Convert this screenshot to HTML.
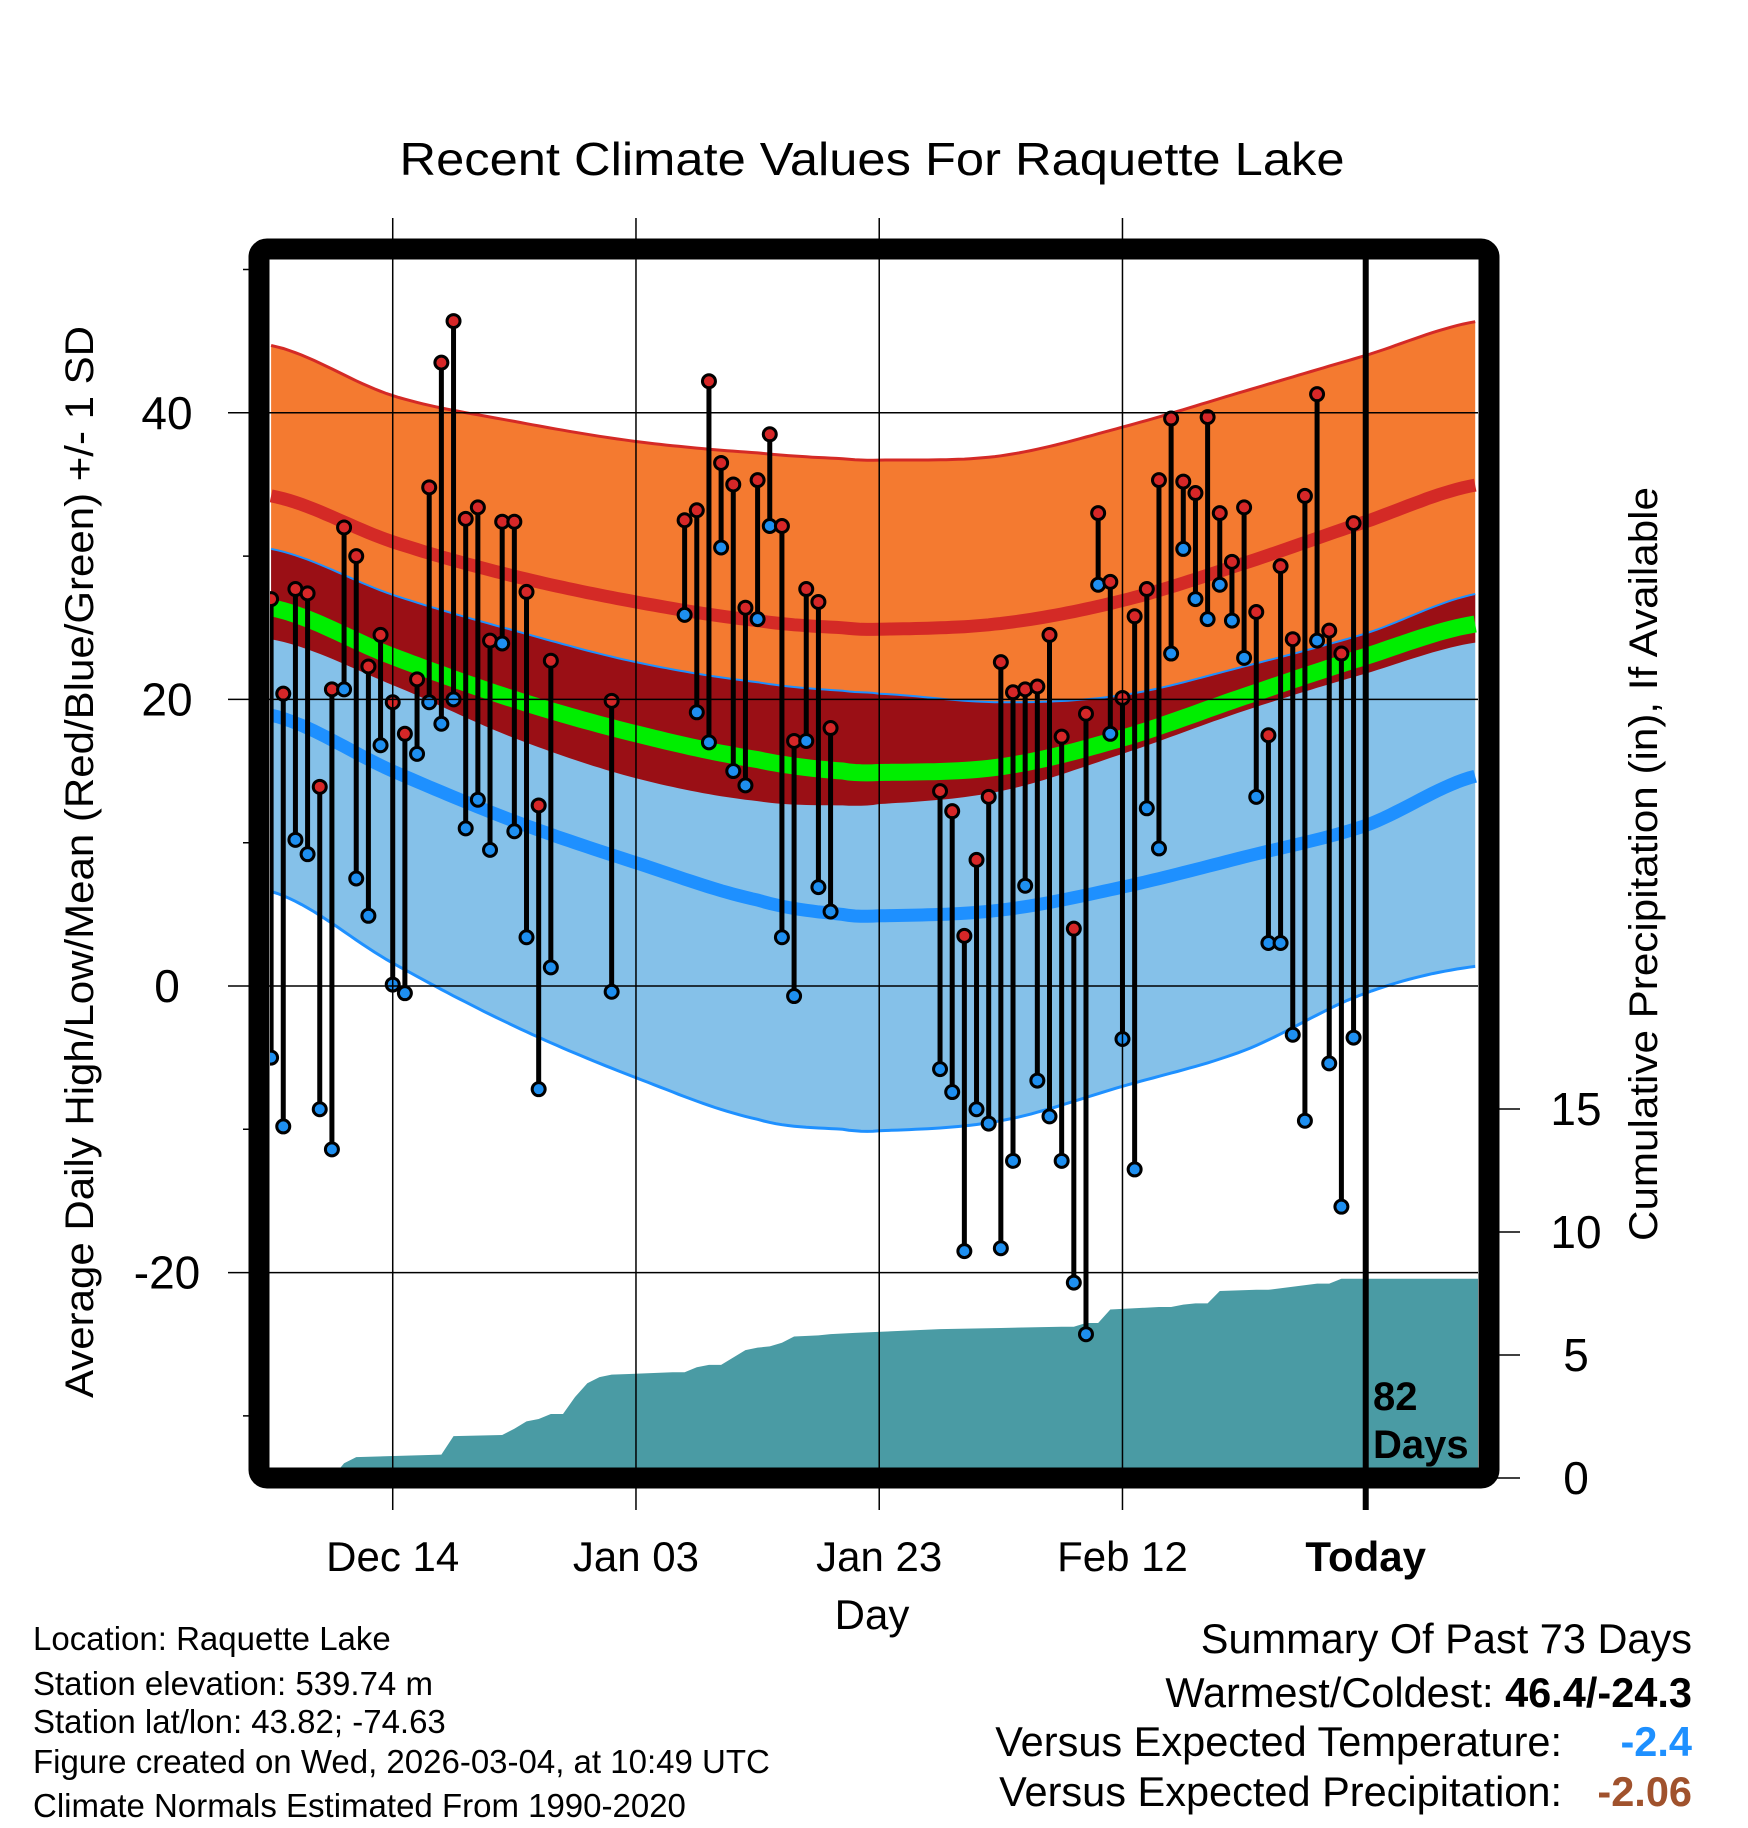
<!DOCTYPE html>
<html><head><meta charset="utf-8"><style>
html,body{margin:0;padding:0;background:#fff;}
svg{display:block;font-family:"Liberation Sans",sans-serif;}
</style></head><body>
<svg id="chart" width="1748" height="1828" viewBox="0 0 1748 1828" xmlns="http://www.w3.org/2000/svg">
<defs><clipPath id="plotclip"><rect x="270" y="260" width="1208" height="1208"/></clipPath></defs>
<text x="872" y="175" font-size="46" text-anchor="middle" textLength="945" lengthAdjust="spacingAndGlyphs">Recent Climate Values For Raquette Lake</text>
<g id="plot" clip-path="url(#plotclip)"></g>
<g id="axes"></g>
<rect x="259" y="249" width="1230" height="1229" rx="8" fill="none" stroke="#000" stroke-width="21"/>
<text font-size="40" font-weight="bold" x="1373" y="1410">82</text>
<text font-size="40" font-weight="bold" x="1373" y="1458">Days</text>
<text font-size="40" text-anchor="middle" transform="translate(93,862) rotate(-90)" textLength="1072" lengthAdjust="spacingAndGlyphs">Average Daily High/Low/Mean (Red/Blue/Green) +/- 1 SD</text>
<text font-size="40" text-anchor="middle" transform="translate(1657,864) rotate(-90)" textLength="754" lengthAdjust="spacingAndGlyphs">Cumulative Precipitation (in), If Available</text>
<text font-size="42" text-anchor="middle" x="872" y="1629">Day</text>
<g font-size="33">
<text x="33" y="1650">Location: Raquette Lake</text>
<text x="33" y="1695">Station elevation: 539.74 m</text>
<text x="33" y="1733">Station lat/lon: 43.82; -74.63</text>
<text x="33" y="1773">Figure created on Wed, 2026-03-04, at 10:49 UTC</text>
<text x="33" y="1817">Climate Normals Estimated From 1990-2020</text>
</g>
<g font-size="41.5" text-anchor="end">
<text x="1692" y="1653">Summary Of Past 73 Days</text>
<text x="1692" y="1707">Warmest/Coldest: <tspan font-weight="bold">46.4/-24.3</tspan></text>
<text x="1562" y="1756">Versus Expected Temperature:</text>
<text x="1692" y="1756" font-weight="bold" fill="#1e90ff">-2.4</text>
<text x="1562" y="1806">Versus Expected Precipitation:</text>
<text x="1692" y="1806" font-weight="bold" fill="#a0522d">-2.06</text>
</g>
</svg>
<script>
const normDays=[0,10,20,30,40,47,50,60,70,80,90,99.3];
const highPlus=[44.7,41.2,39.4,38,37.2,36.8,36.7,37,39,41.5,44,46.4];
const highMean=[34.2,31,28.6,26.8,25.5,25,24.9,25.3,26.9,29.5,32.4,35];
const lowPlus=[30.5,27.3,24.8,22.6,21.2,20.6,20.4,19.8,20.3,22.3,24.6,27.4];
const meanT=[26.4,23,20,17.6,15.8,15,14.9,15.3,17.3,20.2,23,25.3];
const highMinus=[24.2,21,17.3,14.5,12.9,12.6,12.7,13.6,16.2,19.2,21.8,24];
const lowMean=[18.9,15,11.5,8.6,6,5,4.9,5.3,6.9,9,11.2,14.7];
const lowMinus=[6.6,1.6,-2.8,-6.4,-9.3,-10,-10.1,-9.4,-7,-4.5,-0.5,1.4];
const obsDays=[0,1,2,3,4,5,6,7,8,9,10,11,12,13,14,15,16,17,18,19,20,21,22,23,28,34,35,36,37,38,39,40,41,42,43,44,45,46,55,56,57,58,59,60,61,62,63,64,65,66,67,68,69,70,71,72,73,74,75,76,77,78,79,80,81,82,83,84,85,86,87,88,89];
const obsHigh=[27,20.4,27.7,27.4,13.9,20.7,32,30,22.3,24.5,19.8,17.6,21.4,34.8,43.5,46.4,32.6,33.4,24.1,32.4,32.4,27.5,12.6,22.7,19.9,32.5,33.2,42.2,36.5,35,26.4,35.3,38.5,32.1,17.1,27.7,26.8,18,13.6,12.2,3.5,8.8,13.2,22.6,20.5,20.7,20.9,24.5,17.4,4,19,33,28.2,20.1,25.8,27.7,35.3,39.6,35.2,34.4,39.7,33,29.6,33.4,26.1,17.5,29.3,24.2,34.2,41.3,24.8,23.2,32.3];
const obsLow=[-5,-9.8,10.2,9.2,-8.6,-11.4,20.7,7.5,4.9,16.8,0.1,-0.5,16.2,19.8,18.3,20,11,13,9.5,23.9,10.8,3.4,-7.2,1.3,-0.4,25.9,19.1,17,30.6,15,14,25.6,32.1,3.4,-0.7,17.1,6.9,5.2,-5.8,-7.4,-18.5,-8.6,-9.6,-18.3,-12.2,7,-6.6,-9.1,-12.2,-20.7,-24.3,28,17.6,-3.7,-12.8,12.4,9.6,23.2,30.5,27,25.6,28,25.5,22.9,13.2,3,3,-3.4,-9.4,24.1,-5.4,-15.4,-3.6];
const precipDays=[5,6,7,14,15,19,20,21,22,23,24,25,26,27,28,33,34,35,36,37,38,39,40,41,42,43,45,46,48,55,60,65,66,67,68,69,73,74,75,76,77,78,81,82,86,87,88];
const precipCum=[0,0.6,0.85,0.95,1.7,1.75,2.0,2.3,2.4,2.6,2.6,3.3,3.85,4.1,4.2,4.3,4.3,4.5,4.6,4.6,4.9,5.2,5.3,5.35,5.5,5.75,5.8,5.85,5.9,6.05,6.1,6.15,6.15,6.3,6.3,6.85,6.95,6.95,7.05,7.1,7.1,7.6,7.65,7.65,7.9,7.9,8.1];
const tempTicks=[-20,0,20,40];
const tempMinor=[-30,-10,10,30,50];
const precipTicks=[0,5,10,15];
const dateTicks=[10,30,50,70,90];
const dateLabels=['Dec 14','Jan 03','Jan 23','Feb 12','Today'];

const NS='http://www.w3.org/2000/svg';
const X=d=>271.1+12.1625*d;
const Y=t=>986-14.33*t;
const YP=p=>1478-24.6*p;
const plot=document.getElementById('plot'), axes=document.getElementById('axes');
function mk(tag,attrs,parent){const e=document.createElementNS(NS,tag);for(const k in attrs)e.setAttribute(k,attrs[k]);parent.appendChild(e);return e;}
function interp(arr,d){
  let i=0;while(i<normDays.length-2&&d>normDays[i+1])i++;
  const t=(d-normDays[i])/(normDays[i+1]-normDays[i]);
  const p0=arr[Math.max(i-1,0)],p1=arr[i],p2=arr[i+1],p3=arr[Math.min(i+2,arr.length-1)];
  const t2=t*t,t3=t2*t;
  return 0.5*((2*p1)+(-p0+p2)*t+(2*p0-5*p1+4*p2-p3)*t2+(-p0+3*p1-3*p2+p3)*t3);
}
const samp=[];for(let d=0;d<=99.3;d+=0.5)samp.push(d);
function pts(arr){return samp.map(d=>X(d).toFixed(1)+','+Y(interp(arr,d)).toFixed(1));}
function band(a,b){return pts(a).concat(pts(b).reverse()).join(' ');}
function line(arr){return pts(arr).join(' ');}

let pp=[X(precipDays[0]-1)+','+YP(0)];
for(let i=0;i<precipDays.length;i++){pp.push(X(precipDays[i])+','+YP(precipCum[i]));}
pp.push(X(100)+','+YP(precipCum[precipCum.length-1]));pp.push(X(100)+','+YP(0));
let e=mk('polygon',{points:pp.join(' '),fill:'#4a9ba4'},plot);



e=mk('polygon',{points:band(highPlus,highMinus),fill:'#f47a30'},plot);


e=mk('polygon',{points:band(lowPlus,lowMinus),fill:'#85c1e9'},plot);


e=mk('polygon',{points:band(lowPlus,highMinus),fill:'#9a0f15'},plot);


e=mk('polyline',{points:line(meanT),fill:'none',stroke:'#00ee00','stroke-width':17},plot);


e=mk('polyline',{points:line(highMean),fill:'none',stroke:'#d42a26','stroke-width':13},plot);


e=mk('polyline',{points:line(lowMean),fill:'none',stroke:'#1e90ff','stroke-width':13},plot);


e=mk('polyline',{points:line(highPlus),fill:'none',stroke:'#d42a26','stroke-width':3},plot);


e=mk('polyline',{points:line(lowPlus),fill:'none',stroke:'#1e90ff','stroke-width':2},plot);


e=mk('polyline',{points:line(lowMinus),fill:'none',stroke:'#1e90ff','stroke-width':3},plot);



tempTicks.forEach(t=>{
  e=mk('line',{x1:228,x2:1478,y1:Y(t),y2:Y(t),stroke:'#000','stroke-width':1.5},axes);
  
  
  e=mk('text',{x:167,y:Y(t)+16,'font-size':46,'text-anchor':'middle'},axes);e.textContent=t;
  
  
});
tempMinor.forEach(t=>{
  e=mk('line',{x1:243,x2:260,y1:Y(t),y2:Y(t),stroke:'#000','stroke-width':1.5},axes);
  
  
});
dateTicks.forEach((d,i)=>{
  const today=i===dateTicks.length-1;
  e=mk('line',{x1:X(d),x2:X(d),y1:today?250:218,y2:1510,stroke:'#000','stroke-width':today?6:1.5},axes);
  
  
  e=mk('text',{x:X(d),y:1571,'font-size':42,'text-anchor':'middle','font-weight':today?'bold':'normal'},axes);e.textContent=dateLabels[i];
  
  
});
precipTicks.forEach(p=>{
  e=mk('line',{x1:1490,x2:1520,y1:YP(p),y2:YP(p),stroke:'#000','stroke-width':1.5},axes);
  
  
  e=mk('text',{x:1576,y:YP(p)+16,'font-size':46,'text-anchor':'middle'},axes);e.textContent=p;
  
  
});
obsDays.forEach((d,i)=>{
  const x=X(d);
  e=mk('line',{x1:x,x2:x,y1:Y(obsHigh[i]),y2:Y(obsLow[i]),stroke:'#000','stroke-width':5},plot);
  
  
});
obsDays.forEach((d,i)=>{
  const x=X(d);
  e=mk('circle',{cx:x,cy:Y(obsHigh[i]),r:6.5,fill:'#d62728',stroke:'#000','stroke-width':3},plot);
  
  
  e=mk('circle',{cx:x,cy:Y(obsLow[i]),r:6.5,fill:'#1e8ff0',stroke:'#000','stroke-width':3},plot);
  
  
});
</script>
</body></html>
